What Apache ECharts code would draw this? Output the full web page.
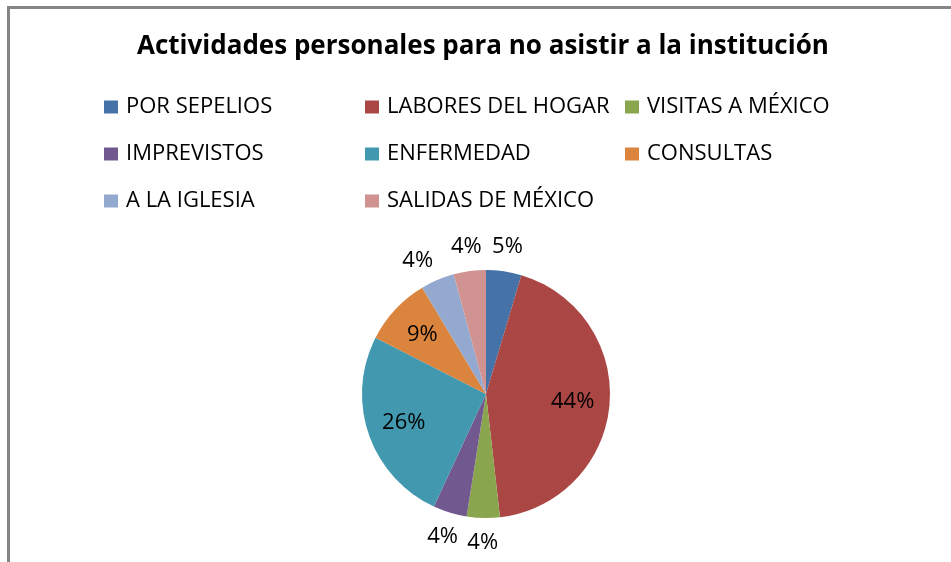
<!DOCTYPE html>
<html>
<head>
<meta charset="utf-8">
<script src="https://cdn.jsdelivr.net/npm/echarts@6/dist/echarts.min.js"></script>
<style>
html,body{margin:0;padding:0;background:#fff;}
#chart{width:951px;height:562px;}
</style>
</head>
<body>
<div id="chart"></div>
<script>
var titleText = 'Actividades personales para no asistir a la institución';
var categories = ['POR SEPELIOS','LABORES DEL HOGAR','VISITAS A MÉXICO','IMPREVISTOS','ENFERMEDAD','CONSULTAS','A LA IGLESIA','SALIDAS DE MÉXICO'];
var values = [4.6, 43.6, 4.3, 4.4, 25.6, 8.9, 4.4, 4.2];
var colors = ['#4572A7','#AA4643','#89A54E','#71588F','#4198AF','#DB843D','#93A9CF','#D19392'];
var legendCol1 = ['POR SEPELIOS','IMPREVISTOS','A LA IGLESIA'];
var legendCol2 = ['LABORES DEL HOGAR','ENFERMEDAD','SALIDAS DE MÉXICO'];
var legendCol3 = ['VISITAS A MÉXICO','CONSULTAS'];

var FONT = 'Open Sans';
var chart = echarts.init(document.getElementById('chart'), null, {renderer:'canvas'});

function fmt(p){ return Math.round(p.value) + '%'; }
var baseData = categories.map(function(c,i){ return {name:c, value:values[i], itemStyle:{color:colors[i]}}; });
var innerData = categories.map(function(c,i){ return {name:c, value:values[i], label:{show: values[i] > 8}}; });
var outerData = categories.map(function(c,i){
  var lbl = {show: values[i] <= 8};
  if (c === 'A LA IGLESIA') lbl.offset = [-10, 4];
  return {name:c, value:values[i], label:lbl};
});

function legend(col, left){
  return {
    orient:'vertical', left:left, top:96, padding:0, data:col,
    icon:'rect', itemWidth:14, itemHeight:13, itemGap:25,
    textStyle:{fontFamily:FONT, fontSize:22, color:'#000', lineHeight:22, padding:[0,0,0,3]},
    selectedMode:false
  };
}

var ringCommon = {
  type:'pie', center:[486,394], startAngle:90, clockwise:true, silent:true,
  avoidLabelOverlap:false, itemStyle:{color:'transparent', borderWidth:0},
  labelLine:{show:false}, emphasis:{disabled:true}, animation:false
};

chart.setOption({
  backgroundColor:'#fff',
  animation:false,
  color: colors,
  title:{
    text:titleText, left:137, top:34, padding:0,
    textStyle:{fontFamily:FONT, fontWeight:'bold', fontSize:26, color:'#000'}
  },
  legend:[legend(legendCol1,104), legend(legendCol2,365), legend(legendCol3,625)],
  graphic:[{
    type:'polyline', silent:true,
    shape:{points:[[8.5,600],[8.5,7.5],[960,7.5]]},
    style:{stroke:'#868686', lineWidth:3, fill:null}
  }],
  series:[
    {
      type:'pie', name:'main', center:[486,394], radius:[0,124], startAngle:90, clockwise:true,
      avoidLabelOverlap:false, label:{show:false}, labelLine:{show:false},
      itemStyle:{borderWidth:0}, emphasis:{scale:false},
      data: baseData
    },
    Object.assign({}, ringCommon, {
      name:'inner', radius:[44,124],
      label:{position:'inside', formatter:fmt, fontFamily:FONT, fontSize:22, color:'#000'},
      data: innerData
    }),
    Object.assign({}, ringCommon, {
      name:'outer', radius:[124,168],
      label:{position:'inside', formatter:fmt, fontFamily:FONT, fontSize:22, color:'#000'},
      data: outerData
    })
  ]
});
</script>
</body>
</html>
